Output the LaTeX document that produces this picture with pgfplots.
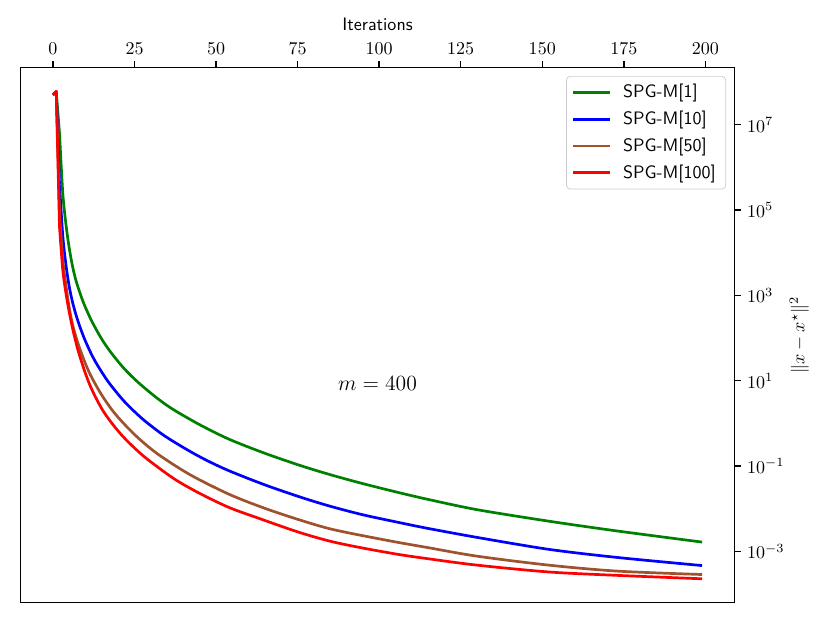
\documentclass[border=0pt]{standalone}
\usepackage{pgfplots}
\pgfplotsset{compat=1.18}
\definecolor{mgreen}{RGB}{0,128,0}
\definecolor{mblue}{RGB}{0,0,255}
\definecolor{msienna}{RGB}{160,82,45}
\definecolor{mred}{RGB}{255,0,0}
\begin{document}
\begin{tikzpicture}
\begin{axis}[
  at={(0,0)}, anchor=south west,
  scale only axis, width=396.4pt, height=297.1pt,
  xmin=-9.95, xmax=208.95,
  ymode=log, ymin=6.31e-5, ymax=2.188e8,
  xtick={0,25,...,200},
  ytick={1e-3,1e-1,1e1,1e3,1e5,1e7},
  yminorticks=false,
  xtick pos=upper, xticklabel pos=upper,
  ytick pos=upper, yticklabel pos=upper,
  tick align=outside,
  major tick length=3.5pt,
  every tick/.style={black, line width=0.8pt},
  axis line style={line width=0.8pt},
  xlabel={\sffamily Iterations},
  ylabel={$\|x-x^\star\|^2$},
  ylabel shift=-4pt,
  legend cell align=left,
  legend image code/.code={\draw[#1, line width=1.5pt] (0pt,0pt) -- (20.5pt,0pt);},
  legend style={at={(1,1)}, xshift=-4.7pt, yshift=-4.7pt, anchor=north east,
    draw=black!20, rounded corners=2pt, fill=white, fill opacity=0.8, text opacity=1,
    font=\sffamily, nodes={inner sep=2.5pt}, row sep=0.85pt,
    /tikz/every odd column/.append style={column sep=3.9pt}},
]
% green
\addplot[mgreen, line width=1.5pt, line join=round, forget plot] coordinates {
(0,5.012e7) (1,6.026e7) (2,6.310e6)};
\addplot[mgreen, line width=1.5pt, line join=round, smooth] coordinates {
(2,6.310e6) (3,2.512e5) (4,4.467e4) (5,1.259e4) (6,4.786e3) (7,2.291e3) (8,1.318e3)
(9,794.3) (10,512.9) (12,239.9) (15,93.33) (18,43.65) (22,18.62) (26,9.333) (30,5.129)
(33,3.388) (37,2.089) (45,0.9333) (54,0.4266) (65,0.1995) (76,0.1023) (85,0.06310)
(95,0.03890) (106,0.02399) (115,0.01660) (130,9.550e-3) (152,5.129e-3) (173,3.020e-3)
(199,1.660e-3)};
\addlegendentry{SPG-M[1]}
% blue
\addplot[mblue, line width=1.5pt, line join=round, forget plot] coordinates {
(0,5.012e7) (1,6.026e7) (2,3.981e5)};
\addplot[mblue, line width=1.5pt, line join=round, smooth] coordinates {
(2,3.981e5) (3,2.512e4) (4,5.012e3) (5,1.585e3) (6,691.8) (7,363.1) (8,208.9) (9,128.8)
(10,83.18) (12,38.90) (14,20.89) (17,9.333) (21,3.890) (24,2.239) (28,1.175) (34,0.5248)
(41,0.2455) (47,0.1380) (54,0.07762) (65,0.03631) (76,0.01862) (85,0.01148)
(95,7.244e-3) (106,4.786e-3) (115,3.467e-3) (130,2.138e-3) (152,1.122e-3)
(173,7.244e-4) (199,4.677e-4)};
\addlegendentry{SPG-M[10]}
% sienna
\addplot[msienna, line width=1.5pt, line join=round, forget plot] coordinates {
(0,5.012e7) (1,6.026e7) (2,7.943e4)};
\addplot[msienna, line width=1.5pt, line join=round, smooth] coordinates {
(2,7.943e4) (3,7.079e3) (4,1.660e3) (5,501.2) (6,208.9) (7,109.6) (8,63.10) (10,24.55)
(12,11.48) (15,4.571) (19,1.698) (25,0.5495) (32,0.1950) (42,0.06310) (54,0.02188)
(65,0.01023) (76,5.370e-3) (85,3.388e-3) (95,2.344e-3) (106,1.622e-3) (115,1.230e-3)
(130,7.762e-4) (152,4.786e-4) (173,3.467e-4) (199,2.884e-4)};
\addlegendentry{SPG-M[50]}
% red
\addplot[mred, line width=1.5pt, line join=round, forget plot] coordinates {
(0,5.012e7) (1,6.026e7) (2,3.981e4)};
\addplot[mred, line width=1.5pt, line join=round, smooth] coordinates {
(2,3.981e4) (3,3.981e3) (4,1.096e3) (5,398.1) (6,169.8) (7,81.28) (8,42.66) (10,14.45)
(12,6.026) (15,2.188) (18,1.023) (22,0.4467) (28,0.1660) (37,0.05129) (45,0.02291)
(54,0.01072) (63,6.026e-3) (75,2.884e-3) (85,1.738e-3) (95,1.202e-3) (106,8.511e-4)
(115,6.761e-4) (130,4.786e-4) (152,3.311e-4) (173,2.754e-4) (199,2.291e-4)};
\addlegendentry{SPG-M[100]}
\node[font=\fontsize{12}{14}\selectfont] at (rel axis cs:0.5,0.41) {$m = 400$};
\end{axis}
\pgfresetboundingbox
\path[use as bounding box] (-11.4pt,-11.3pt) rectangle (449.4pt,334.6pt);
\end{tikzpicture}
\end{document}
